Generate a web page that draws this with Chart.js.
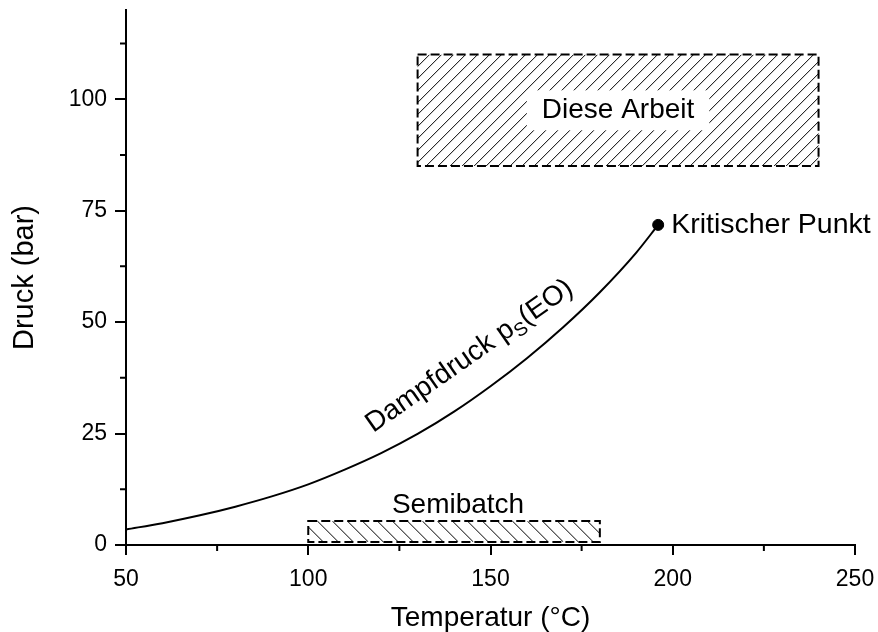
<!DOCTYPE html>
<html>
<head>
<meta charset="utf-8">
<script src="https://cdn.jsdelivr.net/npm/chart.js@4.4.0/dist/chart.umd.min.js"></script>
<style>
  html, body { margin: 0; padding: 0; background: #fff; }
  #wrap { width: 878px; height: 632px; }
</style>
</head>
<body>
<div id="wrap"><canvas id="pressureChart" width="878" height="632"></canvas></div>
<script>
// Dampfdruckkurve Ethylenoxid (Temperatur in °C, Druck in bar)
const temps = [50, 60, 70, 80, 90, 100, 110, 120, 130, 140, 150, 160, 170, 180, 190, 196];
const pressures = [3.5, 4.9, 6.6, 8.6, 10.9, 13.6, 16.9, 20.6, 24.9, 29.9, 35.6, 41.9, 48.9, 56.7, 65.6, 71.8];

// kritischer Punkt
const critTemp = [196];
const critPress = [71.8];

// Betriebsbereiche
const boxLabels = ['Diese Arbeit', 'Semibatch'];
const boxTempMin = [130, 100];
const boxTempMax = [240, 180];
const boxPressMin = [85, 0.7];
const boxPressMax = [110, 5.4];

// Achsenteilung
const xTicks = [50, 100, 150, 200, 250];
const yTicks = [0, 25, 50, 75, 100];
const xMinorTicks = [75, 125, 175, 225];
const yMinorTicks = [12.5, 37.5, 62.5, 87.5, 112.5];

const FONT = "'Liberation Sans', Arial, sans-serif";

// schraffierte Rechtecke mit gestricheltem Rand
const hatchBoxes = {
  id: 'hatchBoxes',
  beforeDatasetsDraw(chart) {
    const { ctx, scales: { x, y } } = chart;
    boxLabels.forEach((label, i) => {
      const left = x.getPixelForValue(boxTempMin[i]);
      const right = x.getPixelForValue(boxTempMax[i]);
      const top = y.getPixelForValue(boxPressMax[i]);
      const bottom = y.getPixelForValue(boxPressMin[i]);
      const w = right - left;
      const h = bottom - top;
      const rising = i === 0;
      const step = i === 0 ? 12 : 15;

      ctx.save();
      ctx.beginPath();
      ctx.rect(left, top, w, h);
      ctx.clip();
      ctx.strokeStyle = '#000';
      ctx.lineWidth = 1;
      ctx.beginPath();
      for (let s = -h; s < w + h; s += step) {
        if (rising) {
          ctx.moveTo(left + s, bottom);
          ctx.lineTo(left + s + h, top);
        } else {
          ctx.moveTo(left + s, top);
          ctx.lineTo(left + s + h, bottom);
        }
      }
      ctx.stroke();
      ctx.restore();

      ctx.save();
      ctx.strokeStyle = '#000';
      ctx.setLineDash([9, 4]);
      ctx.lineWidth = 2;
      ctx.strokeRect(left, top, w, h);
      ctx.restore();

      ctx.save();
      ctx.font = '28px ' + FONT;
      ctx.textAlign = 'center';
      const cx = (left + right) / 2;
      if (i === 0) {
        const cy = (top + bottom) / 2;
        const tw = ctx.measureText(label).width;
        ctx.fillStyle = '#fff';
        ctx.fillRect(cx - tw / 2 - 15, cy - 20, tw + 30, 40);
        ctx.fillStyle = '#000';
        ctx.textBaseline = 'middle';
        ctx.fillText(label, cx, cy);
      } else {
        ctx.fillStyle = '#000';
        ctx.textBaseline = 'alphabetic';
        ctx.fillText(label, cx + 4, top - 8);
      }
      ctx.restore();
    });
  }
};

// Nebenteilstriche
const minorTicks = {
  id: 'minorTicks',
  afterDraw(chart) {
    const { ctx, chartArea, scales: { x, y } } = chart;
    ctx.save();
    ctx.strokeStyle = '#000';
    ctx.lineWidth = 2;
    ctx.beginPath();
    xMinorTicks.forEach(v => {
      const px = x.getPixelForValue(v);
      ctx.moveTo(px, chartArea.bottom);
      ctx.lineTo(px, chartArea.bottom + 6);
    });
    yMinorTicks.forEach(v => {
      const py = y.getPixelForValue(v);
      ctx.moveTo(chartArea.left, py);
      ctx.lineTo(chartArea.left - 6, py);
    });
    ctx.stroke();
    ctx.restore();
  }
};

// Beschriftung der Kurve und des kritischen Punkts
const curveLabels = {
  id: 'curveLabels',
  afterDatasetsDraw(chart) {
    const { ctx, scales: { x, y } } = chart;
    ctx.save();
    ctx.fillStyle = '#000';
    ctx.font = '28.5px ' + FONT;
    ctx.textAlign = 'left';
    ctx.textBaseline = 'middle';
    ctx.fillText('Kritischer Punkt', x.getPixelForValue(critTemp[0]) + 13, y.getPixelForValue(critPress[0]));

    ctx.font = '28px ' + FONT;
    ctx.translate(x.getPixelForValue(117.8), y.getPixelForValue(25.1));
    ctx.rotate(-35 * Math.PI / 180);
    ctx.textBaseline = 'alphabetic';
    const main = 'Dampfdruck p';
    ctx.fillText(main, 0, 0);
    let pos = ctx.measureText(main).width;
    ctx.font = '19px ' + FONT;
    ctx.fillText('S', pos, 6);
    pos += ctx.measureText('S').width;
    ctx.font = '28px ' + FONT;
    ctx.fillText('(EO)', pos, 0);
    ctx.restore();
  }
};

const axisStyle = {
  border: { color: '#000', width: 2 },
  grid: { drawOnChartArea: false, color: '#000', lineWidth: 2 }
};

new Chart(document.getElementById('pressureChart'), {
  type: 'line',
  data: {
    datasets: [
      {
        data: temps.map((t, i) => ({ x: t, y: pressures[i] })),
        borderColor: '#000',
        borderWidth: 2,
        pointRadius: 0,
        cubicInterpolationMode: 'monotone',
        fill: false
      },
      {
        data: critTemp.map((t, i) => ({ x: t, y: critPress[i] })),
        showLine: false,
        pointRadius: 5.5,
        pointBackgroundColor: '#000',
        pointBorderColor: '#000'
      }
    ]
  },
  options: {
    responsive: false,
    animation: false,
    layout: { padding: { top: 10, right: 23, left: 0, bottom: 0 } },
    plugins: { legend: { display: false }, tooltip: { enabled: false } },
    scales: {
      x: {
        type: 'linear',
        min: 50,
        max: 250,
        afterBuildTicks: s => { s.ticks = xTicks.map(v => ({ value: v })); },
        afterFit: s => { s.height = 87; s.paddingLeft = 0; s.paddingRight = 0; },
        border: axisStyle.border,
        grid: { ...axisStyle.grid, tickLength: 10 },
        ticks: { color: '#000', font: { family: FONT, size: 23 }, padding: 11, maxRotation: 0 },
        title: {
          display: true,
          text: 'Temperatur (°C)',
          color: '#000',
          font: { family: FONT, size: 28, lineHeight: 1 },
          padding: 0
        }
      },
      y: {
        type: 'linear',
        min: 0,
        max: 120,
        afterBuildTicks: s => { s.ticks = yTicks.map(v => ({ value: v })); },
        afterFit: s => { s.width = 126; s.paddingTop = 0; s.paddingBottom = 0; },
        border: axisStyle.border,
        grid: { ...axisStyle.grid, tickLength: 11 },
        ticks: { color: '#000', font: { family: FONT, size: 23 }, padding: 8 },
        title: {
          display: true,
          text: 'Druck (bar)',
          color: '#000',
          font: { family: FONT, size: 29, lineHeight: 1 },
          padding: { top: 10 }
        }
      }
    }
  },
  plugins: [hatchBoxes, minorTicks, curveLabels]
});
</script>
</body>
</html>
